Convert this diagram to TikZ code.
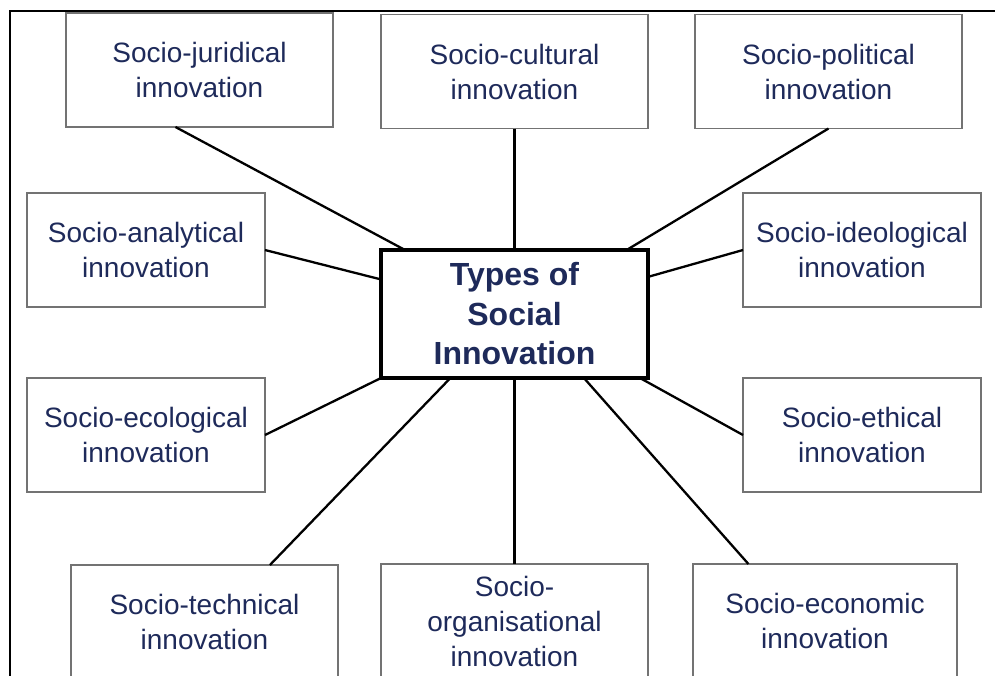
\documentclass[tikz,border=0pt]{standalone}
\usepackage{fontspec}
\setmainfont{Liberation Sans}
\usetikzlibrary{calc}
\definecolor{navy}{RGB}{30,42,90}
\definecolor{boxgray}{RGB}{115,115,115}
\begin{document}
\begin{tikzpicture}[x=1pt,y=-1pt,
  typebox/.style={draw=boxgray, line width=1.8pt, fill=white, inner sep=0pt, outer sep=0pt,
    align=center, text=navy, font=\fontsize{28}{35}\selectfont},
  wide/.style={minimum width=267pt, minimum height=114pt},
  narrow/.style={minimum width=238pt, minimum height=114pt},
  hub/.style={draw=black, line width=3.2pt, fill=white, inner sep=0pt, outer sep=0pt,
    minimum width=267pt, minimum height=128pt, align=center, text=navy,
    font=\fontsize{32}{39.5}\selectfont\bfseries},
  conn/.style={draw=black, line width=2.3pt},
  frame/.style={draw=black, line width=2.8pt}]
  \useasboundingbox (0,0) rectangle (995,675);
  \clip (0,0) rectangle (995,675);

  % page frame (left and top edges)
  \draw[frame] (10,700) -- (10,11) -- (1010,11);

  % central node
  \node[hub] (cen) at (514.5,314) {Types of\\Social\\Innovation};

  % surrounding types
  \node[typebox, wide]   (jur) at (199.5,70)  {Socio-juridical\\innovation};
  \node[typebox, wide]   (cul) at (514.5,71.5) {Socio-cultural\\innovation};
  \node[typebox, wide]   (pol) at (828.5,71.5) {Socio-political\\innovation};
  \node[typebox, narrow] (ana) at (146,250)   {Socio-analytical\\innovation};
  \node[typebox, narrow] (ide) at (862,250)   {Socio-ideological\\innovation};
  \node[typebox, narrow] (eco) at (146,435)   {Socio-ecological\\innovation};
  \node[typebox, narrow] (eth) at (862,435)   {Socio-ethical\\innovation};
  \node[typebox, wide]   (tec) at (204.5,622) {Socio-technical\\innovation};
  \node[typebox, wide]   (org) at (514.5,621) {Socio-\\organisational\\innovation};
  \node[typebox, wide, minimum width=264pt] (ecn) at (825,621) {Socio-economic\\innovation};

  % spokes
  \draw[conn] ($(jur.south west)!0.41!(jur.south east)$) -- ($(cen.north west)!0.09!(cen.north east)$);
  \draw[conn] (cul.south) -- (cen.north);
  \draw[conn] (pol.south) -- ($(cen.north west)!0.92!(cen.north east)$);
  \draw[conn] (ana.east) -- ($(cen.north west)!0.23!(cen.south west)$);
  \draw[conn] (ide.west) -- ($(cen.north east)!0.21!(cen.south east)$);
  \draw[conn] (eco.east) -- (cen.south west);
  \draw[conn] (eth.west) -- ($(cen.south west)!0.97!(cen.south east)$);
  \draw[conn] ($(cen.south west)!0.26!(cen.south east)$) -- ($(tec.north west)!0.745!(tec.north east)$);
  \draw[conn] (cen.south) -- (org.north);
  \draw[conn] ($(cen.south west)!0.76!(cen.south east)$) -- ($(ecn.north west)!0.21!(ecn.north east)$);
\end{tikzpicture}
\end{document}
